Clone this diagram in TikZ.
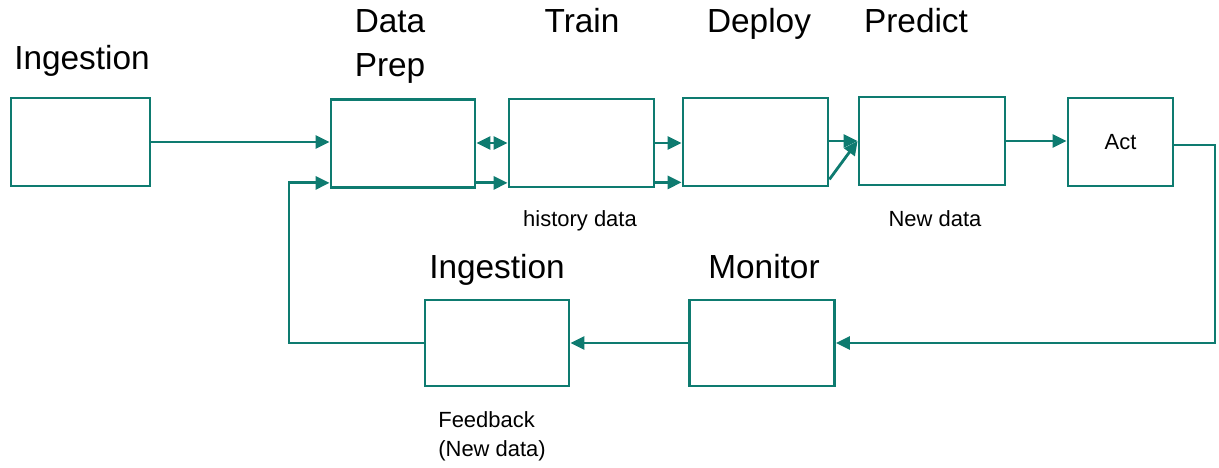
\documentclass[tikz,border=0pt]{standalone}
\usepackage{fontspec}
\setmainfont{Liberation Sans}
\usepackage{xcolor}
\usetikzlibrary{arrows.meta, positioning, calc}
\definecolor{flowteal}{HTML}{0E7B70}
\tikzstyle{arrow} = [line width=1.6pt, draw=flowteal, -{Triangle[length=0.28cm, width=0.26cm]}]

\begin{document}
\begin{tikzpicture}[x=0.02cm, y=-0.02cm,
    stagebox/.style={rectangle, draw=flowteal, line width=1.6pt, minimum width=2.9cm, minimum height=1.76cm, inner sep=0pt, font=\fontsize{12.5}{15}\selectfont},
    title/.style={anchor=base, inner sep=0pt, align=center, font=\fontsize{19}{25}\selectfont},
    note/.style={anchor=base, inner sep=0pt, font=\fontsize{12.5}{16}\selectfont}]
    \useasboundingbox (0,0) rectangle (1219,467);

    % Stages, upper row
    \node[stagebox, minimum width=2.78cm] (ing) at (80.5,142) {};
    \node[stagebox, minimum width=2.88cm] (prep) at (403,143.5) {};
    \node[stagebox] (train) at (581.5,143) {};
    \node[stagebox] (deploy) at (755.5,142) {};
    \node[stagebox, minimum width=2.92cm] (predict) at (932,141) {};
    \node[stagebox, minimum width=2.1cm] (act) at (1120.5,142) {Act};

    % Stages, lower row
    \node[stagebox, minimum height=1.72cm] (monitor) at (762,343) {};
    \node[stagebox, minimum width=2.88cm, minimum height=1.72cm] (feed) at (497,343) {};

    % Titles
    \node[title] (ingT) at (82,69) {Ingestion};
    \node[title] (prepT) at (390,76) {Data\\Prep};
    \node[title] (trainT) at (582,32) {Train};
    \node[title] (deployT) at (759,32) {Deploy};
    \node[title] (predictT) at (916,32) {Predict};
    \node[title] (feedT) at (497,278) {Ingestion};
    \node[title] (monitorT) at (764,278) {Monitor};

    % Notes
    \node[note] (hist) at (580,226) {history data};
    \node[note] (newd) at (935,226) {New data};
    \node[note, anchor=base west, align=left] (fbT) at (438,456) {Feedback\\(New data)};

    % Corners of the loop
    \coordinate (turn) at (1215,343);
    \coordinate (back) at (289,343);

    % Arrows
    \draw[arrow] (ing.east) -- (prep.west |- ing.east);
    \draw[arrow, {Triangle[length=0.28cm, width=0.26cm]}-{Triangle[length=0.28cm, width=0.26cm]}] (prep.east |- train.west) -- (train.west);
    \draw[arrow] ([yshift=0.12cm]prep.south east) -- ([yshift=0.12cm]prep.south east -| train.west);
    \draw[arrow] (train.east) -- (deploy.west |- train.east);
    \draw[arrow] ([yshift=0.12cm]train.south east) -- ([yshift=0.12cm]train.south east -| deploy.west);
    \draw[arrow] (deploy.east |- predict.west) -- (predict.west);
    \draw[arrow] ([yshift=0.16cm]deploy.south east) -- (predict.west);
    \draw[arrow] (predict.east) -- (act.west |- predict.east);
    \draw[arrow] ([yshift=-0.06cm]act.east) -| (turn) -- (monitor.east);
    \draw[arrow] (monitor.west) -- (feed.east);
    \draw[arrow] (feed.west) -- (back) |- ([yshift=0.12cm]prep.south west);
\end{tikzpicture}
\end{document}
